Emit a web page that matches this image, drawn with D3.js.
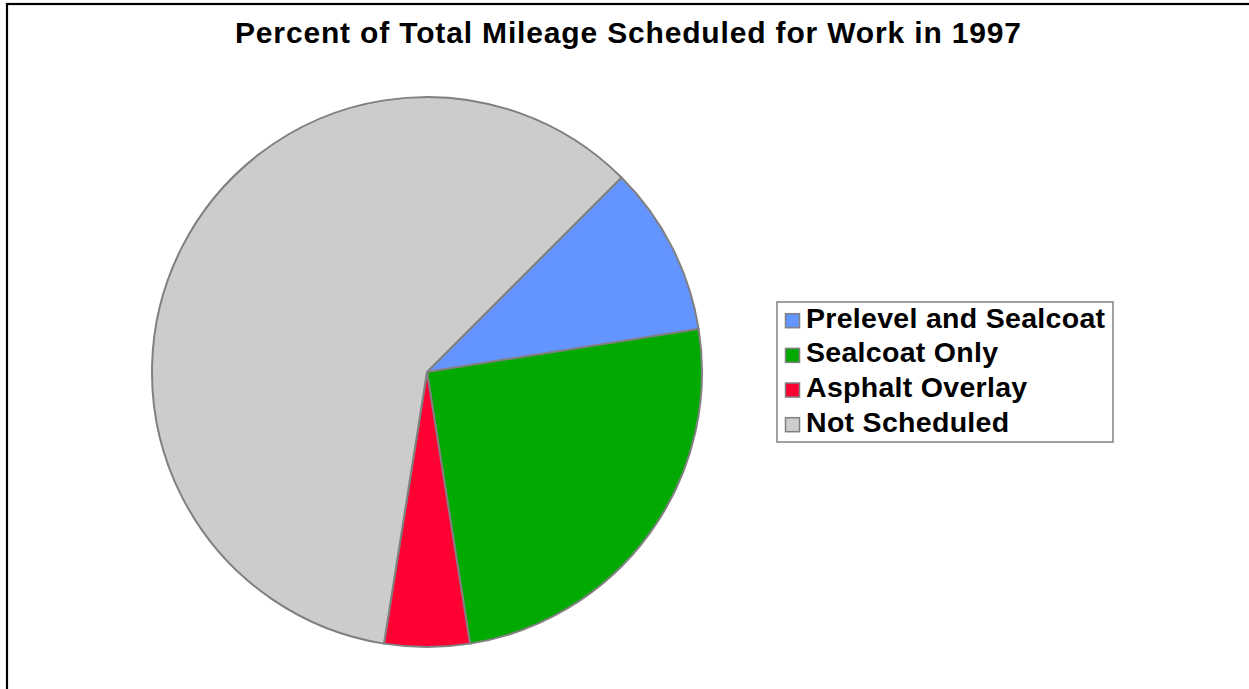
<!DOCTYPE html>
<html>
<head>
<meta charset="utf-8">
<script src="https://cdn.jsdelivr.net/npm/d3@7"></script>
<style>
  html, body { margin: 0; padding: 0; background: #fff; }
  svg { display: block; }
  text { font-family: "Liberation Sans", Arial, sans-serif; font-weight: bold; fill: #000; }
</style>
</head>
<body>
<svg id="chart" width="1249" height="689"></svg>
<script>
// Mileage share by work type, 1997 (percent of total)
const categories = ["Prelevel and Sealcoat", "Sealcoat Only", "Asphalt Overlay", "Not Scheduled"];
const values = [10, 25, 5, 60];
const colors = ["#6495FF", "#00AA00", "#FF0033", "#CCCCCC"];
const title = "Percent of Total Mileage Scheduled for Work in 1997";

const svg = d3.select("#chart");
const W = 1249, H = 689;

// Chart frame (runs past the right and bottom edges)
svg.append("rect")
  .attr("x", 7).attr("y", 4)
  .attr("width", W + 20).attr("height", H + 20)
  .attr("fill", "#fff").attr("stroke", "#000").attr("stroke-width", 2.2);

// Title
svg.append("text")
  .attr("x", 628).attr("y", 43)
  .attr("text-anchor", "middle")
  .attr("font-size", 30)
  .attr("textLength", 786)
  .attr("lengthAdjust", "spacing")
  .text(title);

// Pie
const cx = 427, cy = 372, R = 275;
const pie = d3.pie().sort(null).value(d => d.value)
  .startAngle(Math.PI / 4).endAngle(Math.PI / 4 + 2 * Math.PI);
const arc = d3.arc().innerRadius(0).outerRadius(R);
const data = categories.map((c, i) => ({ name: c, value: values[i], color: colors[i] }));
const color = d3.scaleOrdinal().domain(categories).range(colors);

svg.append("g")
  .attr("transform", `translate(${cx},${cy})`)
  .selectAll("path")
  .data(pie(data))
  .join("path")
  .attr("d", arc)
  .attr("fill", d => color(d.data.name))
  .attr("stroke", "#808080")
  .attr("stroke-width", 2)
  .attr("stroke-linejoin", "round");

// Legend
const lg = svg.append("g");
lg.append("rect")
  .attr("x", 777).attr("y", 302)
  .attr("width", 336).attr("height", 140)
  .attr("fill", "#fff").attr("stroke", "#808080").attr("stroke-width", 1.5);

const rowY = d3.scalePoint().domain(categories).range([327.7, 431.7]);
const rows = lg.selectAll("g.row").data(data).join("g").attr("class", "row");
rows.append("rect")
  .attr("x", 785.5).attr("y", d => rowY(d.name) - 14)
  .attr("width", 14).attr("height", 14)
  .attr("fill", d => color(d.name))
  .attr("stroke", "#808080").attr("stroke-width", 1.5);
rows.append("text")
  .attr("x", 806).attr("y", d => rowY(d.name))
  .attr("font-size", 28.5)
  .attr("letter-spacing", 0.3)
  .text(d => d.name);
</script>
</body>
</html>
